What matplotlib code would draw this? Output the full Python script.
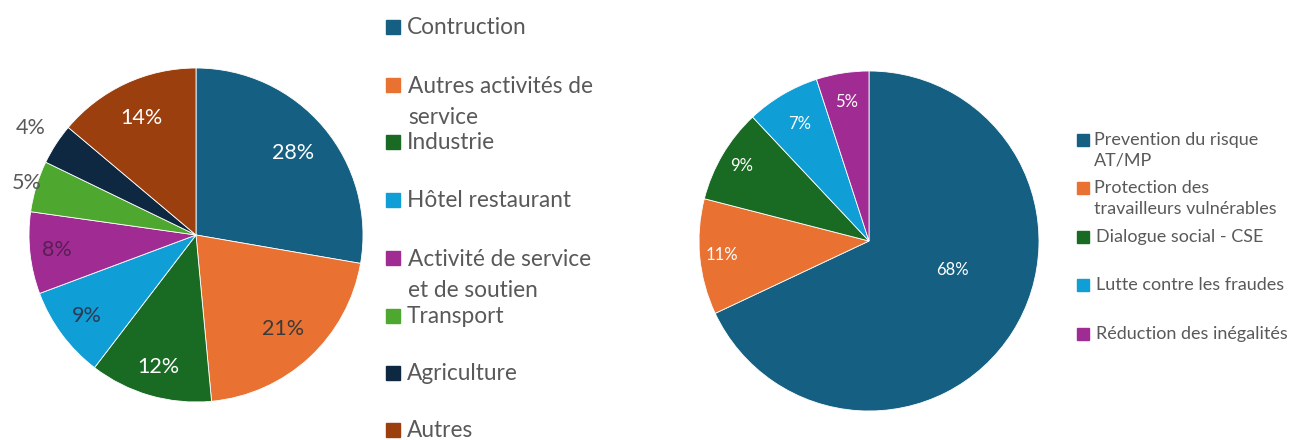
import matplotlib.pyplot as plt
from matplotlib.patches import Rectangle
import numpy as np

plt.rcParams['font.family'] = ['Lato', 'DejaVu Sans']

# left pie: sectors
secteurs = ["Contruction", "Autres activités de\nservice", "Industrie", "Hôtel restaurant",
            "Activité de service\net de soutien", "Transport", "Agriculture", "Autres"]
secteurs_pct = [28, 21, 12, 9, 8, 5, 4, 14]
secteurs_colors = ["#156082", "#E97132", "#196B24", "#0F9ED5", "#A02B93", "#4EA72E", "#0E2841", "#9C3F0F"]
secteurs_txt = ["white", "#3a3a3a", "white", "#2b3a55", "#5a1e55", "#595959", "#595959", "white"]
secteurs_dist = [0.76, 0.77, 0.82, 0.81, 0.84, 1.06, 1.18, 0.77]

# right pie: actions
actions = ["Prevention du risque\nAT/MP", "Protection des\ntravailleurs vulnérables", "Dialogue social - CSE",
           "Lutte contre les fraudes", "Réduction des inégalités"]
actions_pct = [68, 11, 9, 7, 5]
actions_colors = ["#156082", "#E97132", "#196B24", "#0F9ED5", "#A02B93"]
actions_dist = [0.52, 0.87, 0.87, 0.80, 0.83]

W, H = 1291, 440
fig = plt.figure(figsize=(W / 100, H / 100), dpi=100)


def pie_axes(cx, cy, r):
    ax = fig.add_axes([(cx - r) / W, (H - cy - r) / H, 2 * r / W, 2 * r / H])
    return ax


def draw_pie(ax, vals, colors, dists, txtcols, fs, angle_fix=None):
    wedges, _ = ax.pie(vals, colors=colors, startangle=90, counterclock=False,
                       wedgeprops=dict(linewidth=0.6, edgecolor="white"))
    for i, w in enumerate(wedges):
        mid = np.deg2rad((w.theta1 + w.theta2) / 2)
        if angle_fix and i in angle_fix:
            mid = np.deg2rad(angle_fix[i])
        d = dists[i]
        ax.text(d * np.cos(mid), d * np.sin(mid), f"{vals[i]}%", ha="center", va="center",
                fontsize=fs, color=txtcols[i] if isinstance(txtcols, list) else txtcols)
    ax.set_xlim(-1, 1)
    ax.set_ylim(-1, 1)
    ax.set_aspect("equal")
    ax.axis("off")


ax1 = pie_axes(196, 235, 167)
draw_pie(ax1, secteurs_pct, secteurs_colors, secteurs_dist, secteurs_txt, 15.5)

ax2 = pie_axes(869, 241, 170)
draw_pie(ax2, actions_pct, actions_colors, actions_dist, "white", 12, angle_fix={0: -19})


def legend_item(x, y, label, color, sq, fs):
    fig.patches.append(Rectangle(((x) / W, (H - y - sq / 2) / H), sq / W, sq / H,
                                 transform=fig.transFigure, color=color))
    fig.text((x + sq + 7) / W, (H - y) / H, label, ha="left", va="center",
             fontsize=fs, color="#595959")


# left legend rows (y of first line, px)
left_y = [27, 85, 142, 200, 258, 316, 373, 430]
for yy, lab, c in zip(left_y, secteurs, secteurs_colors):
    if "\n" in lab:
        fig.patches.append(Rectangle((386 / W, (H - yy - 7) / H), 14 / W, 14 / H,
                                     transform=fig.transFigure, color=c))
        fig.text(408 / W, (H - yy + 9) / H, lab, ha="left", va="top", fontsize=16.3,
                 color="#595959", linespacing=1.57)
    else:
        legend_item(386, yy, lab, c, 14, 16.3)

right_y = [140, 188, 237, 285, 334]
for yy, lab, c in zip(right_y, actions, actions_colors):
    if "\n" in lab:
        fig.patches.append(Rectangle((1077 / W, (H - yy - 6) / H), 12 / W, 12 / H,
                                     transform=fig.transFigure, color=c))
        fig.text(1094 / W, (H - yy + 8) / H, lab, ha="left", va="top", fontsize=13,
                 color="#595959", linespacing=1.36)
    else:
        legend_item(1077, yy, lab, c, 12, 13)

fig.savefig("out.png", dpi=100)
